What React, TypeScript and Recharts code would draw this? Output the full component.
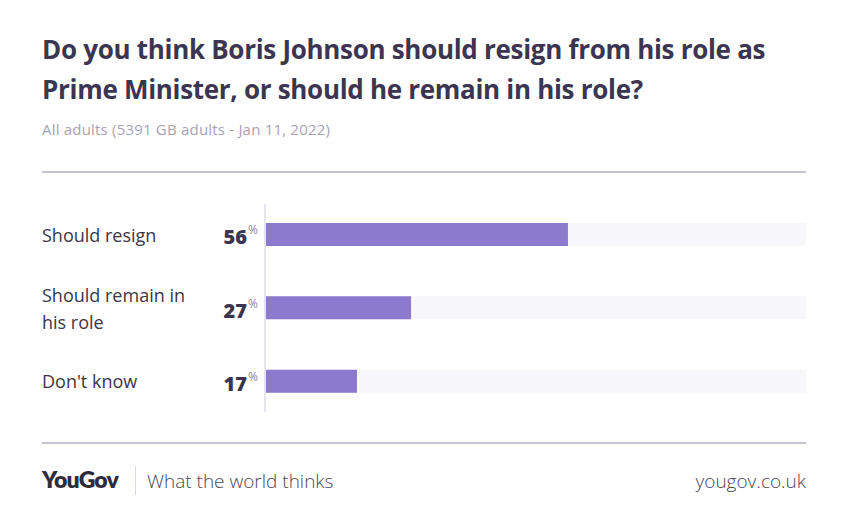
import { Bar, BarChart, XAxis, YAxis } from "recharts";

const categories = ["Should resign", "Should remain in his role", "Don't know"];
const labelLines = [["Should resign"], ["Should remain in", "his role"], ["Don't know"]];
const shares = [56, 27, 17];

const data = categories.map((name, i) => ({ name, value: shares[i] }));

const ink = "#3b3551";
const font = "'Open Sans', Lato, sans-serif";

function CategoryTick({ y, index }: any) {
  const lines = labelLines[index] ?? [];
  const lh = 27;
  const first = y - ((lines.length - 1) * lh) / 2;
  return (
    <g>
      <text x={42} y={first} fontSize={18} fill="#3a3646" fontFamily={font} dominantBaseline="central">
        {lines.map((l, k) => (
          <tspan key={k} x={42} y={first + k * lh}>
            {l}
          </tspan>
        ))}
      </text>
      <text x={247} y={y + 2} textAnchor="end" fontSize={20} fontWeight={800} fill={ink} fontFamily={font} dominantBaseline="central">
        {shares[index]}
      </text>
      <text x={248} y={y - 5} fontSize={12} fill="#8a8699" fontFamily={font} dominantBaseline="central">
        %
      </text>
    </g>
  );
}

export default function App() {
  return (
    <div style={{ position: "absolute", left: 0, top: 0, width: 842, height: 526, background: "#fff", fontFamily: font }}>
      <div style={{ position: "absolute", left: 42, top: 29, width: 790, fontSize: 26, fontWeight: 700, lineHeight: "40px", color: ink, letterSpacing: -0.3 }}>
        Do you think Boris Johnson should resign from his role as
        <br />
        Prime Minister, or should he remain in his role?
      </div>
      <div style={{ position: "absolute", left: 42, top: 119, fontSize: 15, color: "#a7a3b5", letterSpacing: 0.2 }}>
        All adults (5391 GB adults - Jan 11, 2022)
      </div>
      <div style={{ position: "absolute", left: 42, top: 171, width: 764, height: 2, background: "#c6c3d1" }} />

      <div style={{ position: "absolute", left: 0, top: 0 }}>
        <BarChart
          width={842}
          height={526}
          data={data}
          layout="vertical"
          margin={{ top: 204, right: 36, bottom: 114, left: 0 }}
        >
          <XAxis type="number" domain={[0, 100]} hide />
          <YAxis
            type="category"
            dataKey="name"
            width={265}
            padding={{ top: -6, bottom: -6 }}
            axisLine={{ stroke: "#e6e4ef", strokeWidth: 2 }}
            tickLine={false}
            tick={<CategoryTick />}
            interval={0}
          />
          <Bar
            dataKey="value"
            fill="#8b7acd"
            barSize={23}
            background={{ fill: "#f7f6fb" }}
            isAnimationActive={false}
          />
        </BarChart>
      </div>

      <div style={{ position: "absolute", left: 42, top: 442, width: 764, height: 2, background: "#c6c3d1" }} />
      <div style={{ position: "absolute", left: 42, top: 465, fontSize: 23, fontWeight: 800, color: "#2f2b3a", letterSpacing: -0.8, fontFamily: "Lato, sans-serif" }}>
        YouGov
      </div>
      <div style={{ position: "absolute", left: 135, top: 466, width: 1, height: 29, background: "#dcdae3" }} />
      <div style={{ position: "absolute", left: 147, top: 468, fontSize: 19, color: "#4a4658", fontWeight: 300 }}>
        What the world thinks
      </div>
      <div style={{ position: "absolute", right: 36, top: 468, fontSize: 19, color: "#4a4658", fontWeight: 300 }}>
        yougov.co.uk
      </div>
    </div>
  );
}
